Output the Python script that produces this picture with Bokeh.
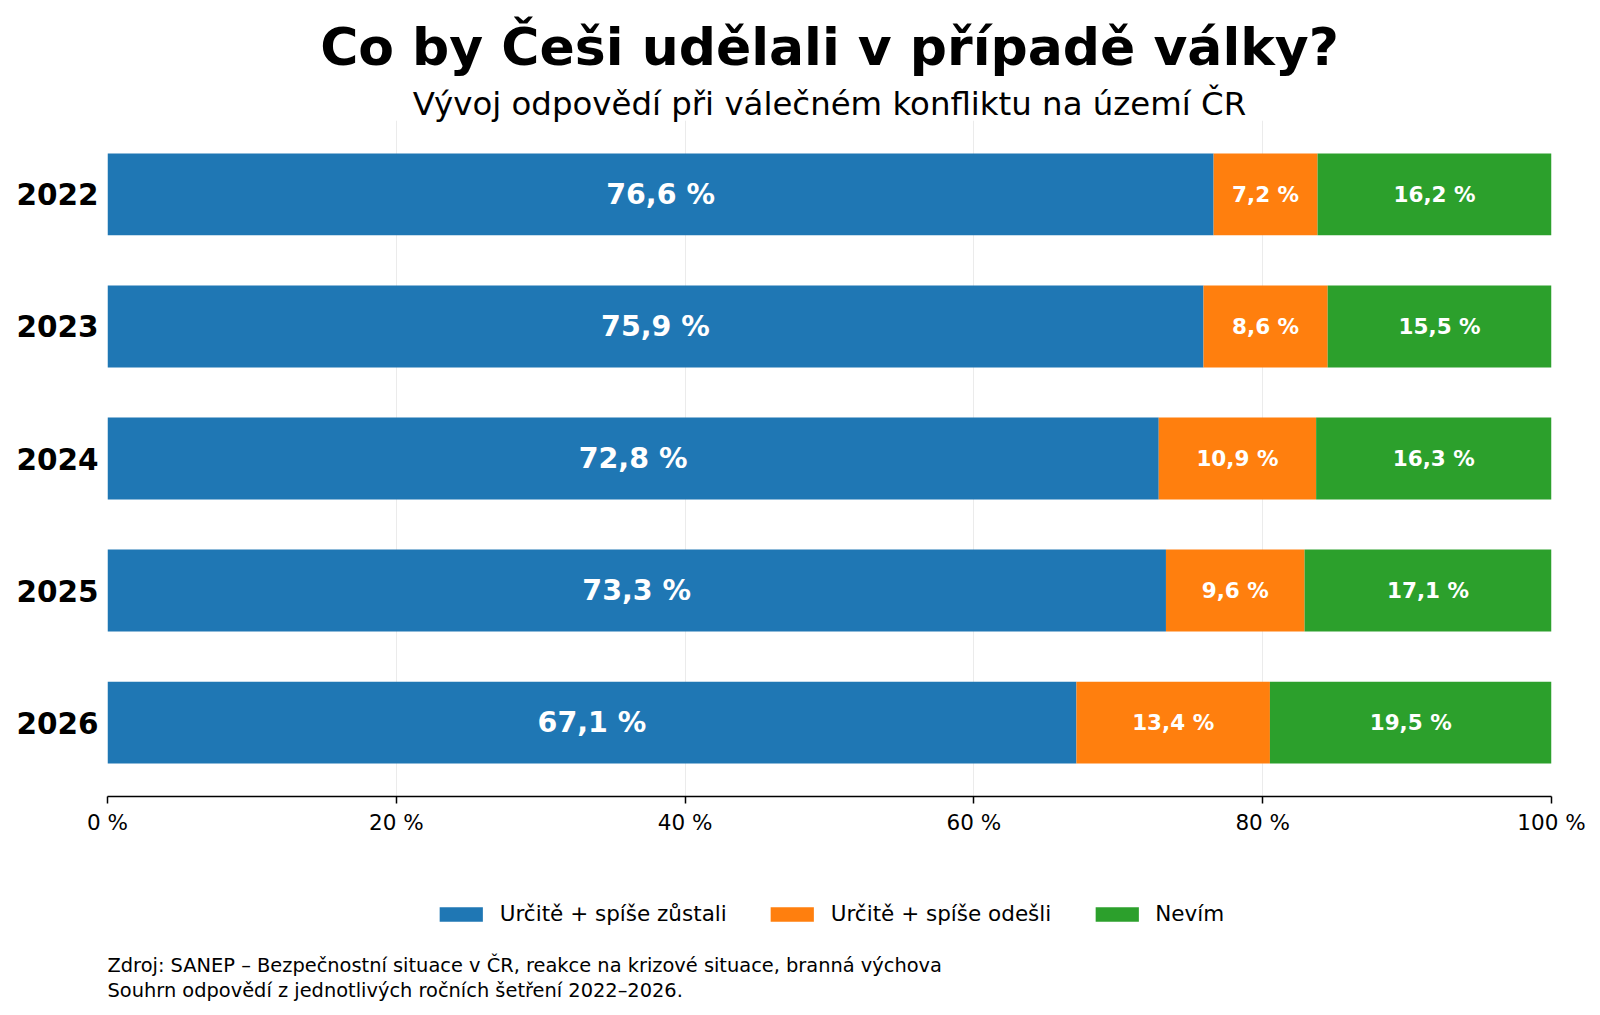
from bokeh.plotting import figure
from bokeh.layouts import column
from bokeh.models import (ColumnDataSource, Range1d, FactorRange, FixedTicker,
                          Legend, LegendItem, Title, LabelSet, Label)
from bokeh.core.properties import value
from bokeh.embed import file_html
from bokeh.resources import INLINE

years = ["2022", "2023", "2024", "2025", "2026"]
stay = [76.6, 75.9, 72.8, 73.3, 67.1]
leave = [7.2, 8.6, 10.9, 9.6, 13.4]
dunno = [16.2, 15.5, 16.3, 17.1, 19.5]
series_names = ["Určitě + spíše zůstali", "Určitě + spíše odešli", "Nevím"]
colors = ["#1f77b4", "#ff7f0e", "#2ca02c"]
x_ticks = [0, 20, 40, 60, 80, 100]
x_tick_labels = ["0 %", "20 %", "40 %", "60 %", "80 %", "100 %"]
title_text = "Co by Češi udělali v případě války?"
subtitle_text = "Vývoj odpovědí při válečném konfliktu na území ČR"
source_line1 = "Zdroj: SANEP – Bezpečnostní situace v ČR, reakce na krizové situace, branná výchova"
source_line2 = "Souhrn odpovědí z jednotlivých ročních šetření 2022–2026."

FONT = "DejaVu Sans"
FRAME_W = 1444
BORDER_L = 107
BORDER_R = 39

# ---------------- main chart ----------------
p = figure(frame_width=FRAME_W, frame_height=676,
           y_range=FactorRange(factors=years[::-1], range_padding=0.024),
           x_range=Range1d(0, 100),
           output_backend="svg", toolbar_location=None,
           min_border_left=BORDER_L, min_border_right=BORDER_R,
           min_border_top=120, min_border_bottom=45,
           outline_line_color=None, background_fill_color="white")

p.title.text = title_text
p.title.text_font = FONT
p.title.text_font_size = "52px"
p.title.text_font_style = "bold"
p.title.align = "center"
p.title.standoff = 15
p.title.text_color = "black"

sub = Title(text=subtitle_text, text_font=FONT, text_font_size="32.4px",
            text_font_style="normal", align="center", text_color="black",
            standoff=-4)
p.add_layout(sub, "above")

series = [stay, leave, dunno]
label_sizes = ["28.5px", "21.5px", "21.5px"]
cum = [0.0] * len(years)
for vals, col, fs in zip(series, colors, label_sizes):
    left = list(cum)
    right = [a + b for a, b in zip(cum, vals)]
    mid = [(a + b) / 2 for a, b in zip(left, right)]
    labels = [f"{v:.1f}".replace(".", ",") + " %" for v in vals]
    src = ColumnDataSource(dict(year=years, left=left, right=right, mid=mid, label=labels))
    p.hbar(y="year", left="left", right="right", height=0.62, source=src,
           fill_color=col, line_color=None)
    ls = LabelSet(x="mid", y="year", text="label", source=src,
                  text_align="center", text_baseline="middle",
                  text_font=value(FONT), text_font_size=value(fs),
                  text_font_style="bold", text_color="white")
    p.add_layout(ls)
    cum = right

p.xaxis.ticker = FixedTicker(ticks=x_ticks)
p.xaxis.major_label_overrides = dict(zip(x_ticks, x_tick_labels))
p.xaxis.axis_line_width = 1.5
p.xaxis.axis_line_color = "black"
p.xaxis.major_tick_out = 7
p.xaxis.major_tick_in = 0
p.xaxis.major_tick_line_width = 1.5
p.xaxis.major_tick_line_color = "black"
p.xaxis.minor_tick_line_color = None
p.xaxis.major_label_text_font = FONT
p.xaxis.major_label_text_font_size = "21.5px"
p.xaxis.major_label_text_color = "black"
p.xaxis.major_label_standoff = 6

p.yaxis.axis_line_color = None
p.yaxis.major_tick_line_color = None
p.yaxis.minor_tick_line_color = None
p.yaxis.major_label_text_font = FONT
p.yaxis.major_label_text_font_size = "29.5px"
p.yaxis.major_label_text_font_style = "bold"
p.yaxis.major_label_text_color = "black"
p.yaxis.major_label_standoff = 3

p.xgrid.ticker = FixedTicker(ticks=x_ticks)
p.xgrid.grid_line_color = "#ebebeb"
p.xgrid.grid_line_width = 1
p.ygrid.grid_line_color = None

# ---------------- legend + source strip ----------------
FOOT_H = 169
p2 = figure(frame_width=FRAME_W, frame_height=FOOT_H, title=None,
            x_range=Range1d(0, 1), y_range=Range1d(0, 1),
            x_axis_type=None, y_axis_type=None,
            output_backend="svg", toolbar_location=None,
            min_border_left=BORDER_L, min_border_right=BORDER_R,
            min_border_top=0, min_border_bottom=0,
            outline_line_color=None, background_fill_color="white")
p2.xgrid.grid_line_color = None
p2.ygrid.grid_line_color = None

# legend swatches: zero-width proxy bars (nothing visible is drawn in the strip)
items = []
for name, col in zip(series_names, colors):
    key = ColumnDataSource(dict(y=[0.5], left=[0.0], right=[0.0]))
    r = p2.hbar(y="y", left="left", right="right", height=0.5, source=key,
                fill_color=col, line_color=None)
    items.append(LegendItem(label=name, renderers=[r]))

legend = Legend(items=items, orientation="horizontal", location="top_center",
                border_line_color=None, background_fill_alpha=0,
                glyph_width=54, glyph_height=18, label_standoff=12, spacing=38,
                label_text_font=FONT, label_text_font_size="21.5px",
                label_text_color="black", margin=60, padding=0)
p2.add_layout(legend)

src1 = Label(x=0, y=45.5, x_units="screen", y_units="screen", text=source_line1,
             text_font=FONT, text_font_size="19.4px", text_color="black",
             text_baseline="alphabetic", text_align="left")
src2 = Label(x=0, y=20, x_units="screen", y_units="screen", text=source_line2,
             text_font=FONT, text_font_size="19.4px", text_color="black",
             text_baseline="alphabetic", text_align="left")
p2.add_layout(src1)
p2.add_layout(src2)

layout = column(p, p2, spacing=0)
open("out.html", "w").write(file_html(layout, INLINE))
